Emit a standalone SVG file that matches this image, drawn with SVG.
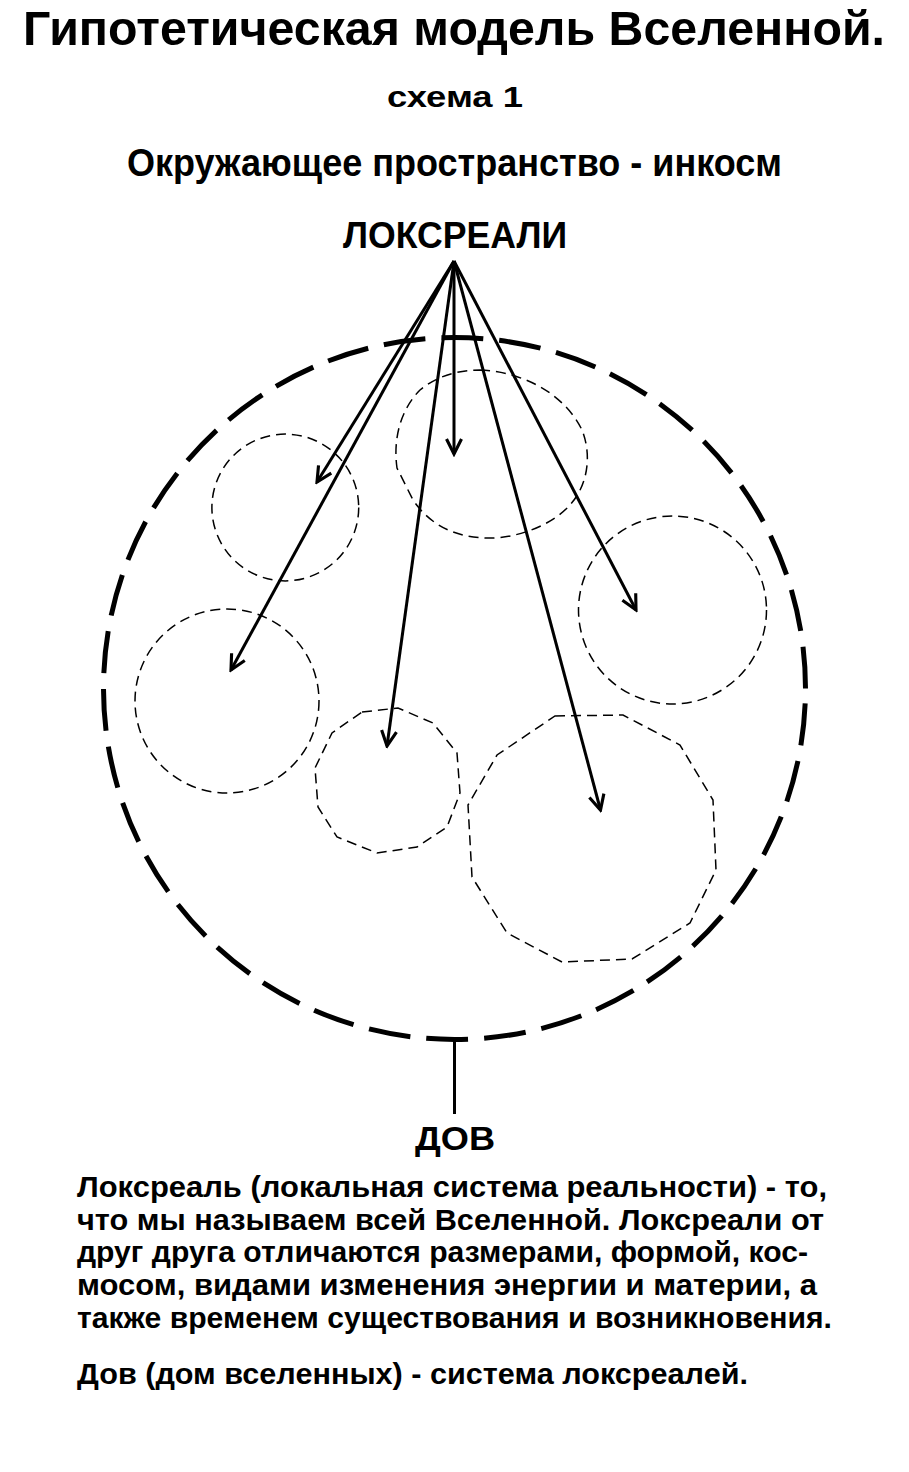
<svg xmlns="http://www.w3.org/2000/svg" width="909" height="1472" viewBox="0 0 909 1472">
<style>
text{font-family:"Liberation Sans",Arial,sans-serif;font-weight:bold;fill:#000}
.c{text-anchor:middle}
.small{fill:none;stroke:#000;stroke-width:1.5;stroke-dasharray:10 6}
.arrow{fill:none;stroke:#000;stroke-width:3;marker-end:url(#ah)}
</style>
<defs>
<marker id="ah" markerUnits="userSpaceOnUse" markerWidth="20" markerHeight="20" viewBox="-14 -8 16 16" refX="0" refY="0" orient="auto">
<path d="M-12,-6 L0,0 L-12,6" fill="none" stroke="#000" stroke-width="2.5"/>
</marker>
</defs>
<rect width="909" height="1472" fill="#fff"/>
<g id="titles">
<text class="c" x="454" y="45" font-size="49" textLength="862" lengthAdjust="spacingAndGlyphs">Гипотетическая модель Вселенной.</text>
<text class="c" x="455" y="107" font-size="30" textLength="136" lengthAdjust="spacingAndGlyphs">схема 1</text>
<text class="c" x="454.5" y="176" font-size="39" textLength="655" lengthAdjust="spacingAndGlyphs">Окружающее пространство - инкосм</text>
</g>
<g id="dov">
<circle cx="454.5" cy="688.5" r="351" fill="none" stroke="#000" stroke-width="5" stroke-dasharray="42 16.04" stroke-dashoffset="-15.1"/>
<line x1="454.5" y1="1040" x2="454.5" y2="1114" stroke="#000" stroke-width="3"/>
<text class="c" x="455" y="1150" font-size="34" textLength="80" lengthAdjust="spacingAndGlyphs">ДОВ</text>
</g>
<g id="loksreal-a"><circle class="small" cx="285.3" cy="507.5" r="73.4"/></g>
<g id="loksreal-b"><circle class="small" cx="227" cy="701" r="92"/></g>
<g id="loksreal-c"><circle class="small" cx="672.5" cy="610" r="94"/></g>
<g id="loksreal-top"><path class="small" d="M480,370 C525,372 565,395 582,430 C592,455 588,485 570,505 C550,527 515,538 490,538 C455,538 430,525 413,500 L397,468 C393,440 400,410 420,390 C437,376 458,370 480,370 Z"/></g>
<g id="loksreal-small-poly"><polygon class="small" points="362,712 398,708 433,723 457,753 460,793 447,827 417,847 377,853 337,837 318,807 315,768 332,733"/></g>
<g id="loksreal-big-poly"><polygon class="small" points="555,716 623,715 680,745 713,800 716,870 690,923 632,959 562,962 507,933 472,877 468,805 497,755"/></g>
<g id="connectors">
<line class="arrow" x1="454" y1="261" x2="317" y2="482"/>
<line class="arrow" x1="454" y1="261" x2="231" y2="670"/>
<line class="arrow" x1="454" y1="261" x2="454" y2="454"/>
<line class="arrow" x1="454" y1="261" x2="387" y2="746"/>
<line class="arrow" x1="454" y1="261" x2="600.5" y2="810"/>
<line class="arrow" x1="454" y1="261" x2="636" y2="610"/>
</g>
<g id="loksreali-label">
<text class="c" x="455" y="248" font-size="37" textLength="224" lengthAdjust="spacingAndGlyphs">ЛОКСРЕАЛИ</text>
</g>
<g id="description" font-size="29">
<text x="77" y="1197" textLength="750" lengthAdjust="spacingAndGlyphs">Локсреаль (локальная система реальности) - то,</text>
<text x="77" y="1230" textLength="747" lengthAdjust="spacingAndGlyphs">что мы называем всей Вселенной. Локсреали от</text>
<text x="77" y="1262" textLength="731" lengthAdjust="spacingAndGlyphs">друг друга отличаются размерами, формой, кос-</text>
<text x="77" y="1295" textLength="740" lengthAdjust="spacingAndGlyphs">мосом, видами изменения энергии и материи, а</text>
<text x="77" y="1328" textLength="755" lengthAdjust="spacingAndGlyphs">также временем существования и возникновения.</text>
<text x="77" y="1384" textLength="671" lengthAdjust="spacingAndGlyphs">Дов (дом вселенных) - система локсреалей.</text>
</g>
</svg>
